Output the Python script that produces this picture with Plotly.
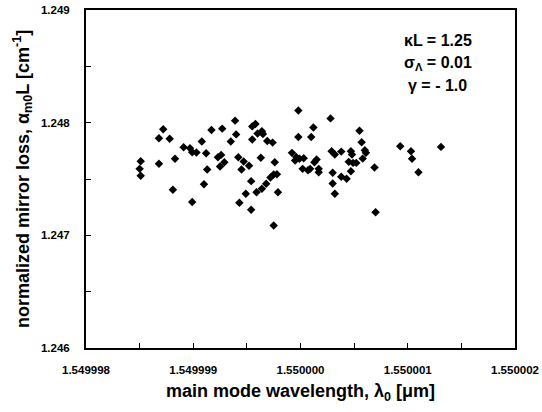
import plotly.graph_objects as go

# main mode wavelength (um)
wavelength = [
    1.54999851, 1.54999850, 1.54999851, 1.54999872, 1.54999868, 1.54999878,
    1.54999868, 1.54999883, 1.54999881, 1.54999891, 1.54999897, 1.54999899,
    1.54999903, 1.54999908, 1.54999912, 1.54999913, 1.54999910, 1.54999899,
    1.54999917, 1.54999927, 1.54999939, 1.54999940, 1.54999935, 1.54999923,
    1.54999926, 1.54999925, 1.54999929, 1.54999942, 1.54999947, 1.54999952,
    1.54999945, 1.54999955, 1.54999958, 1.54999955, 1.54999960, 1.54999964,
    1.54999965, 1.54999969, 1.54999974, 1.54999963, 1.54999976, 1.54999954,
    1.54999972, 1.54999975, 1.54999978, 1.54999968, 1.54999964, 1.54999959,
    1.54999949, 1.54999979, 1.54999943, 1.54999954, 1.54999975, 1.54999998,
    1.54999998, 1.54999992, 1.54999996, 1.54999999, 1.54999995, 1.55000002,
    1.55000007, 1.55000003, 1.55000012, 1.55000010, 1.55000009, 1.55000013,
    1.55000015, 1.55000017, 1.55000017, 1.55000028, 1.55000029, 1.55000032,
    1.55000038, 1.55000047, 1.55000048, 1.55000045, 1.55000049, 1.55000052,
    1.55000055, 1.55000057, 1.55000060, 1.55000061, 1.55000058, 1.55000047,
    1.55000030, 1.55000038, 1.55000043, 1.55000030, 1.55000032, 1.55000069,
    1.55000070, 1.55000093, 1.55000103, 1.55000104, 1.55000110, 1.55000131,
]

# normalized mirror loss
mirror_loss = [
    1.247658, 1.247590, 1.247528, 1.247941, 1.247861, 1.247858,
    1.247635, 1.247679, 1.247404, 1.247781, 1.247773, 1.247737,
    1.247735, 1.247832, 1.247728, 1.247584, 1.247454, 1.247295,
    1.247934, 1.247947, 1.248018, 1.247896, 1.247832, 1.247693,
    1.247714, 1.247611, 1.247649, 1.247693, 1.247655, 1.247617,
    1.247584, 1.247967, 1.247988, 1.247850, 1.247903, 1.247923,
    1.247900, 1.247838, 1.247823, 1.247688, 1.247649, 1.247481,
    1.247513, 1.247540, 1.247542, 1.247458, 1.247413, 1.247383,
    1.247369, 1.247383, 1.247289, 1.247227, 1.247088, 1.248108,
    1.247873, 1.247732, 1.247696, 1.247679, 1.247664, 1.247590,
    1.247578, 1.247684, 1.247958, 1.247873, 1.247590, 1.247649,
    1.247673, 1.247590, 1.247560, 1.248038, 1.247746, 1.247717,
    1.247743, 1.247746, 1.247717, 1.247652, 1.247643, 1.247643,
    1.247929, 1.247826, 1.247755, 1.247732, 1.247681, 1.247569,
    1.247555, 1.247520, 1.247502, 1.247460, 1.247369, 1.247602,
    1.247204, 1.247790, 1.247746, 1.247679, 1.247560, 1.247785,
]

x_ticks = [1.549998, 1.549999, 1.550000, 1.550001, 1.550002]
x_ticklabels = ["1.549998", "1.549999", "1.550000", "1.550001", "1.550002"]
y_ticks = [1.246, 1.247, 1.248, 1.249]
y_ticklabels = ["1.246", "1.247", "1.248", "1.249"]

x_title = "main mode wavelength, λ<sub>0</sub> [μm]"
y_title = "normalized mirror loss, α<sub>m0</sub>L [cm<sup>-1</sup>]"
params = ["κL = 1.25", "σ<sub>Λ</sub> = 0.01", "γ = - 1.0"]

FONT = "Liberation Sans, Arial, sans-serif"

fig = go.Figure()
fig.add_trace(go.Scatter(
    x=wavelength, y=mirror_loss, mode="markers",
    marker=dict(symbol="diamond", size=6.5, color="black"),
    showlegend=False,
))

axis_common = dict(
    showgrid=False, zeroline=False, showline=True, linecolor="black",
    linewidth=2, mirror=True, ticks="inside", ticklen=5, tickwidth=1,
    tickcolor="black", automargin=False,
    tickfont=dict(family=FONT, size=11.5, color="black", weight="bold"),
)

fig.update_layout(
    width=542, height=412,
    margin=dict(l=86, r=27, t=10, b=64, autoexpand=False),
    paper_bgcolor="white", plot_bgcolor="white",
    font=dict(family=FONT, color="black"),
    xaxis=dict(
        range=[1.549998, 1.550002],
        tickvals=x_ticks, ticktext=x_ticklabels,
        minor=dict(dtick=0.5e-6, tick0=1.549998, ticks="inside", ticklen=5,
                   tickcolor="black", showgrid=False),
        ticklabelstandoff=10,
        **axis_common,
    ),
    yaxis=dict(
        range=[1.246, 1.249],
        tickvals=y_ticks, ticktext=y_ticklabels,
        minor=dict(dtick=0.0005, tick0=1.246, ticks="inside", ticklen=5,
                   tickcolor="black", showgrid=False),
        ticklabelstandoff=12,
        **axis_common,
    ),
)

title_font = dict(family=FONT, size=18, color="black", weight="bold")
fig.add_annotation(text=x_title, xref="paper", yref="paper", x=0.5, y=-0.133,
                   xanchor="center", yanchor="middle", showarrow=False,
                   font=title_font)
fig.add_annotation(text=y_title, xref="paper", yref="paper", x=-0.149, y=0.5,
                   xanchor="center", yanchor="middle", showarrow=False,
                   textangle=-90, font=title_font)

for txt, yp in zip(params, [0.911, 0.843, 0.776]):
    fig.add_annotation(
        text=txt, xref="paper", yref="paper", x=0.8205, y=yp,
        xanchor="center", yanchor="middle", showarrow=False,
        font=dict(family=FONT, size=16, color="black", weight="bold"),
    )

# remove the browser's default 8px body margin so the figure fills the window
fig.write_html("out.html", config={"displayModeBar": False},
               post_script="document.body.style.margin='0';")
